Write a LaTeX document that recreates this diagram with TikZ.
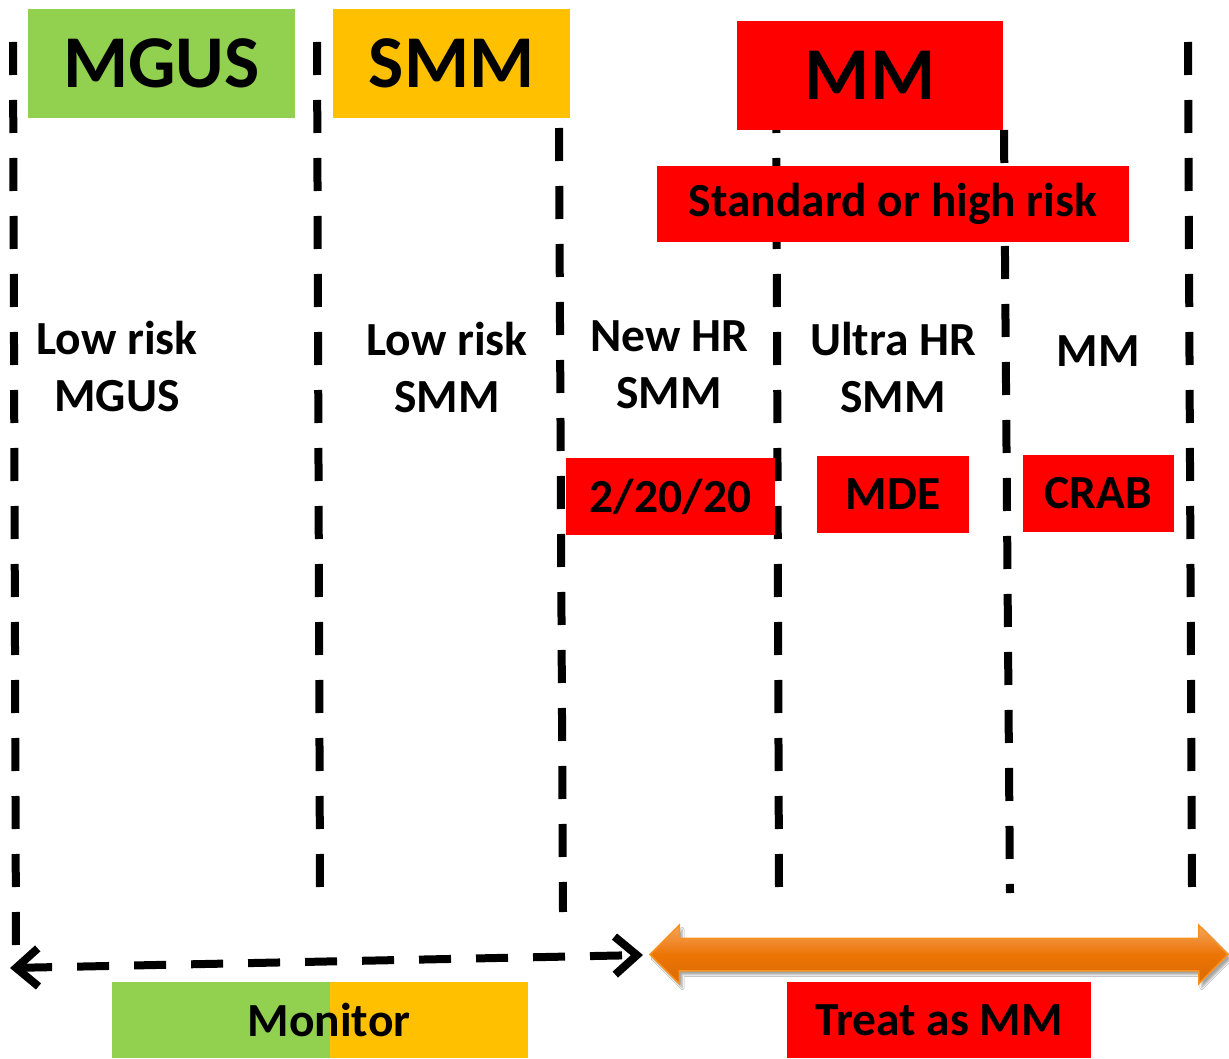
\documentclass[tikz,border=0pt]{standalone}
\usepackage{fontspec}
\setmainfont{Carlito}
\usetikzlibrary{arrows.meta,shapes.arrows,shadows,shadows.blur}
\definecolor{mmGreen}{HTML}{92D050}
\definecolor{mmAmber}{HTML}{FFC000}
\definecolor{mmRed}{HTML}{FF0000}
\definecolor{mmOrange}{HTML}{EC7404}
\definecolor{mmOrangeLight}{HTML}{F4A560}
\definecolor{mmOrangeEdge}{HTML}{F7931E}

\begin{document}
\begin{tikzpicture}[x=1pt,y=-1pt,line cap=butt]
\path[fill=white] (0,0) rectangle (1229,1059);
\tikzset{divider/.style={draw=black,line width=8pt,dash pattern=on 33pt off 25pt},
  stagebox/.style={inner sep=0pt,minimum height=109pt,font=\fontsize{74.5}{80}\selectfont\bfseries},
  tagbox/.style={fill=mmRed,inner sep=0pt,minimum height=77pt,font=\fontsize{47.5}{57}\selectfont\bfseries},
  colhead/.style={align=center,font=\fontsize{47.5}{57}\selectfont\bfseries},
  monbox/.style={inner sep=0pt,minimum width=416pt,minimum height=76pt,font=\fontsize{47.5}{57}\selectfont\bfseries,
    path picture={\fill[mmGreen] (path picture bounding box.south west) rectangle ([xshift=218pt]path picture bounding box.north west);
      \fill[mmAmber] ([xshift=218pt]path picture bounding box.south west) rectangle (path picture bounding box.north east);}}}

% column dividers
\coordinate (d1a) at (13,42); \coordinate (d1b) at (16,948);
\coordinate (d2a) at (317,42); \coordinate (d2b) at (320,888);
\coordinate (d3a) at (559,128); \coordinate (d3b) at (563,912);
\coordinate (d4a) at (776,42); \coordinate (d4b) at (779,888);
\coordinate (d5a) at (1004,130); \coordinate (d5b) at (1010,893);
\coordinate (d6a) at (1188,42); \coordinate (d6b) at (1192,888);
\foreach \d in {1,...,6} {\draw[divider] (d\d a) -- (d\d b);}

% stage headers
\node[stagebox,fill=mmGreen,minimum width=267pt] (mgus) at (161.5,63.5) {MGUS};
\node[stagebox,fill=mmAmber,minimum width=237pt] (smm) at (451.5,63.5) {SMM};
\node[stagebox,fill=mmRed,minimum width=266pt] (mm) at (870,75.5) {MM};
\node[tagbox,minimum width=472pt,minimum height=76pt] (risk) at (893,204) {\raisebox{-2pt}{Standard or high risk}};

% columns
\node[colhead] (lrmgus) at (117,367) {Low risk\\MGUS};
\node[colhead] (lrsmm) at (447,367) {Low risk\\SMM};
\node[colhead] (newhr) at (669,365) {New HR\\SMM};
\node[colhead] (ultrahr) at (893,367) {Ultra HR\\SMM};
\node[colhead] (mmcol) at (1098,351) {MM};
\node[tagbox,minimum width=209pt] (crit) at (670.5,496.5) {\raisebox{-1.5pt}{2/20/20}};
\node[tagbox,minimum width=152pt] (mde) at (893,494.5) {\raisebox{-1.5pt}{MDE}};
\node[tagbox,minimum width=151pt] (crab) at (1098.5,493.5) {\raisebox{-1.5pt}{CRAB}};

% monitor / treat
\coordinate (monL) at (10,968); \coordinate (monR) at (643,955);
\draw[divider,dash pattern=on 32pt off 25pt,{Straight Barb[length=22pt,width=38pt]}-{Straight Barb[length=22pt,width=38pt]}] (monL) -- (monR);
\node[double arrow,inner xsep=0pt,inner ysep=15.5pt,minimum width=57pt,minimum height=578pt,double arrow head extend=13pt,double arrow tip angle=90,
  draw=mmOrangeEdge,line width=1.5pt,top color=mmOrangeLight,bottom color=mmOrange!92!black,middle color=mmOrange,
  blur shadow={shadow xshift=3pt,shadow yshift=-4pt,shadow opacity=35}] (treatarrow) at (939,954.5) {};
\node[monbox] (monitor) at (320,1020) {\hspace*{18pt}Monitor};
\node[tagbox,minimum width=304pt,minimum height=76pt] (treat) at (939,1020) {Treat as MM};
\end{tikzpicture}
\end{document}
